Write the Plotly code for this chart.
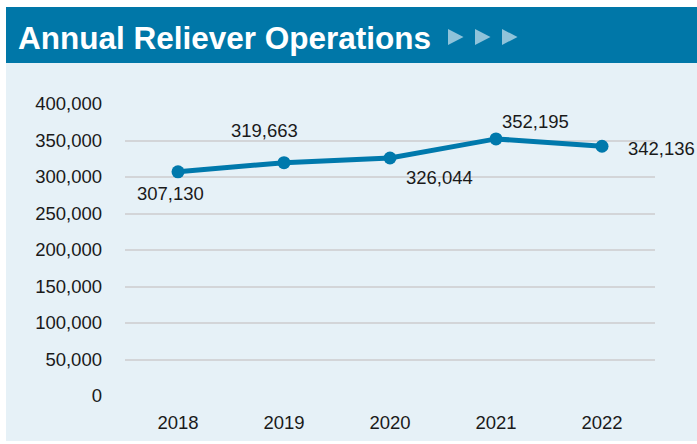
import plotly.graph_objects as go

years = ["2018", "2019", "2020", "2021", "2022"]
operations = [307130, 319663, 326044, 352195, 342136]
label_xshift = [-8, -20, 49, 39, 59]
label_yshift = [-22, 32, -20, 17, -2]
y_ticks = [0, 50000, 100000, 150000, 200000, 250000, 300000, 350000, 400000]

W, H = 697, 444
L, R, T, B = 125, 42, 104, 48
pw, ph = W - L - R, H - T - B

def px(x):
    return (x - L) / pw

def py(y):
    return (H - B - y) / ph

FONT = "Liberation Sans"
TXT = "#1a1a1a"

fig = go.Figure()
fig.add_trace(go.Scatter(
    x=years, y=operations, mode="lines+markers",
    line=dict(color="#0079ac", width=5),
    marker=dict(color="#0079ac", size=13),
    hoverinfo="skip", cliponaxis=False,
))

for i, v in enumerate(operations):
    fig.add_annotation(x=i, y=v, text=f"{v:,}", showarrow=False,
                       xshift=label_xshift[i], yshift=label_yshift[i],
                       font=dict(family=FONT, size=18.5, color=TXT))

fig.add_shape(type="rect", xref="paper", yref="paper", layer="below",
              x0=px(6), x1=px(700), y0=py(63), y1=py(441),
              fillcolor="#e6f1f7", line=dict(width=0))
fig.add_shape(type="rect", xref="paper", yref="paper", layer="below",
              x0=px(6), x1=px(700), y0=py(7), y1=py(63),
              fillcolor="#0077a8", line=dict(width=0))

fig.add_annotation(xref="paper", yref="paper", x=px(16), y=py(38.5),
                   xanchor="left", yanchor="middle", showarrow=False,
                   text="<b>Annual Reliever Operations</b>",
                   font=dict(family=FONT, size=31.5, color="white"))

for x0 in [448, 475, 502]:
    path = (f"M {px(x0)} {py(29)} L {px(x0 + 15.5)} {py(37)} "
            f"L {px(x0)} {py(45)} Z")
    fig.add_shape(type="path", xref="paper", yref="paper", path=path,
                  fillcolor="#8fc3da", line=dict(width=0), layer="above")

fig.update_layout(
    width=W, height=H,
    margin=dict(l=L, r=R, t=T, b=B, pad=0),
    paper_bgcolor="white", plot_bgcolor="rgba(0,0,0,0)",
    showlegend=False,
    xaxis=dict(type="category", range=[-0.5, 4.5], showgrid=False, zeroline=False,
               showline=False, ticks="", ticklabelstandoff=13,
               tickfont=dict(family=FONT, size=18.5, color=TXT)),
    yaxis=dict(range=[0, 400000], tickvals=y_ticks, tickformat=",",
               showgrid=True, gridcolor="#d3d5d8", gridwidth=2, zeroline=False,
               showline=False, ticks="", ticklabelstandoff=22,
               tickfont=dict(family=FONT, size=18.5, color=TXT)),
)

fig.write_html("out.html")
